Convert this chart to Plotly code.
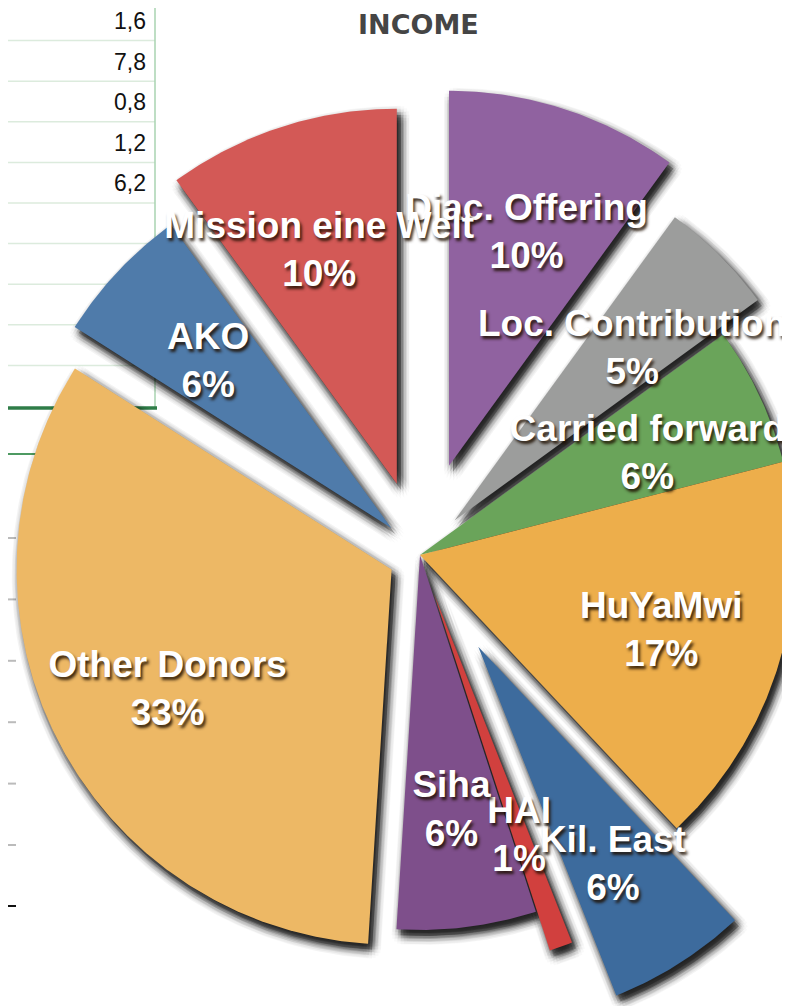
import numpy as np
import plotly.graph_objects as go

# ---- data ----
labels = ["Diac. Offering", "Loc. Contribution", "Carried forward", "HuYaMwi",
          "Kil. East", "HAI", "Siha", "Other Donors", "AKO", "Mission eine Welt"]
percent = [10, 5, 6, 17, 6, 1, 6, 33, 6, 10]
pulls = [0.25, 0.13, 0.0, 0.0, 0.29, 0.11, 0.0, 0.085, 0.105, 0.2]
colors = ["#9062A0", "#9C9D9C", "#6AA45A", "#EDAE4B", "#3D6B9D",
          "#D1403E", "#7E4F8B", "#EDB865", "#4F7BAA", "#D35956"]
table_values = ["1,6", "7,8", "0,8", "1,2", "6,2"]

# ---- layout constants (pixel-unit axes, page coordinates) ----
W, H = 790, 1006
OFF = 8  # page body margin
CX, CY, R = 420, 555, 375
LABEL_R = 0.67
TEXT_DY = 8

vals = np.array(percent, dtype=float)
edges = np.concatenate([[0], np.cumsum(vals)]) / vals.sum() * 360.0


def wedge(a0, a1, p, dx=0.0, dy=0.0):
    am = np.radians((a0 + a1) / 2)
    ox = CX + p * R * np.sin(am) + dx
    oy = CY - p * R * np.cos(am) + dy
    n = max(int((a1 - a0) * 2), 6)
    t = np.radians(np.linspace(a0, a1, n))
    xs = [ox] + list(ox + R * np.sin(t)) + [ox]
    ys = [oy] + list(oy - R * np.cos(t)) + [oy]
    return xs, ys


fig = go.Figure()

# ---- drop shadows (blurred by stacking offset copies) ----
offsets = [(0.0, 0.0, 0.26)]
for rr, k, a in [(3, 8, 0.08), (6, 12, 0.045), (9, 16, 0.025)]:
    for j in range(k):
        ang = 2 * np.pi * j / k
        offsets.append((rr * np.cos(ang), rr * np.sin(ang), a))
SX, SY = 4, 6
for ddx, ddy, a in offsets:
    xs_all, ys_all = [], []
    for i in range(len(vals)):
        xs, ys = wedge(edges[i], edges[i + 1], pulls[i], SX + ddx, SY + ddy)
        xs_all += xs + [None]
        ys_all += ys + [None]
    fig.add_trace(go.Scatter(x=xs_all, y=ys_all, mode="lines", fill="toself",
                             fillcolor=f"rgba(0,0,0,{a})", line=dict(width=0),
                             hoverinfo="skip", showlegend=False))

# ---- slices ----
for i in range(len(vals)):
    xs, ys = wedge(edges[i], edges[i + 1], pulls[i])
    fig.add_trace(go.Scatter(x=xs, y=ys, mode="lines", fill="toself",
                             fillcolor=colors[i], line=dict(width=0, color=colors[i]),
                             name=labels[i], hoverinfo="name", showlegend=False))

# ---- labels ----
lx, ly, lt = [], [], []
for i in range(len(vals)):
    am = np.radians((edges[i] + edges[i + 1]) / 2)
    d = (pulls[i] + LABEL_R) * R
    lx.append(CX + d * np.sin(am))
    ly.append(CY - d * np.cos(am) + TEXT_DY)
    lt.append(f"{labels[i]}<br>{round(vals[i] / vals.sum() * 100)}%")
fig.add_trace(go.Scatter(x=lx, y=ly, text=lt, mode="text", textposition="middle center",
                         textfont=dict(family="Liberation Sans, Arial, Helvetica, sans-serif",
                                       size=37, color="white", weight="bold",
                                       shadow="2px 3px 3px rgba(30,15,0,0.85)"),
                         hoverinfo="skip", showlegend=False))

# ---- spreadsheet behind ----
shapes = []
ROW = 40.6
for k in range(1, 10):
    shapes.append(dict(type="line", x0=0, x1=155, y0=k * ROW, y1=k * ROW,
                       line=dict(color="#DCEBDD", width=1.5), layer="below"))
shapes.append(dict(type="line", x0=155, x1=155, y0=0, y1=408,
                   line=dict(color="#A9D3B0", width=1.5), layer="below"))
shapes.append(dict(type="line", x0=0, x1=157, y0=408, y1=408,
                   line=dict(color="#2F7D48", width=3.5), layer="below"))
shapes.append(dict(type="line", x0=0, x1=120, y0=454, y1=454,
                   line=dict(color="#4E9A62", width=2), layer="below"))
for k in range(6):
    yy = 538 + k * 61.4
    shapes.append(dict(type="line", x0=0, x1=16, y0=yy, y1=yy,
                       line=dict(color="#BBBBBB", width=2), layer="below"))
shapes.append(dict(type="line", x0=0, x1=16, y0=906, y1=906,
                   line=dict(color="#111111", width=2), layer="below"))

annotations = []
for i, v in enumerate(table_values):
    annotations.append(dict(x=148, y=21 + i * ROW, text=v, showarrow=False,
                            xanchor="right", yanchor="middle",
                            font=dict(family="Liberation Sans, Arial, sans-serif",
                                      size=23, color="#111111")))
annotations.append(dict(x=418, y=24, text="INCOME", showarrow=False,
                        xanchor="center", yanchor="middle",
                        font=dict(family="DejaVu Sans, sans-serif", size=27,
                                  color="#454545", weight="bold")))

fig.update_layout(
    width=W, height=H, margin=dict(l=0, r=0, t=0, b=0),
    paper_bgcolor="white", plot_bgcolor="white", showlegend=False,
    xaxis=dict(range=[OFF, W + OFF], visible=False, fixedrange=True),
    yaxis=dict(range=[H + OFF, OFF], visible=False, fixedrange=True),
    shapes=shapes, annotations=annotations,
)

fig.write_html("out.html")
